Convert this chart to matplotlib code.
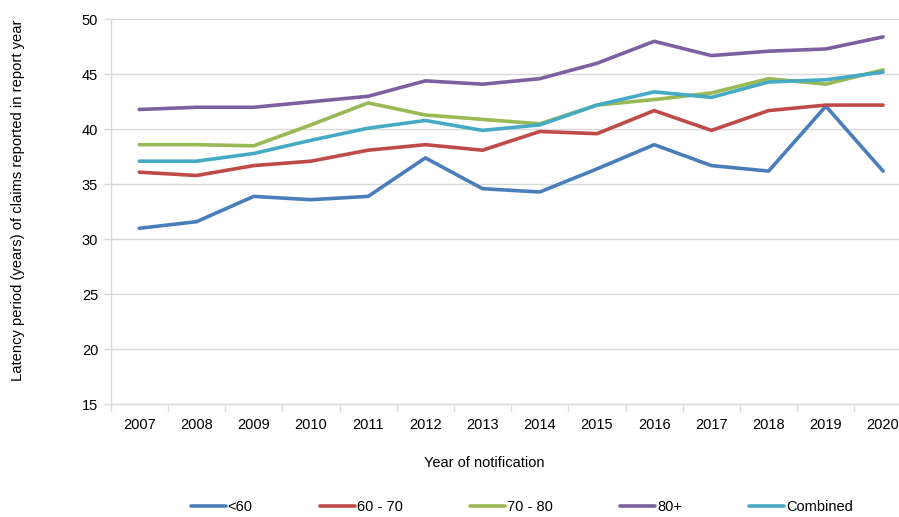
import matplotlib

matplotlib.use("Agg")
import matplotlib.pyplot as plt
import numpy as np

plt.rcParams["font.family"] = ["Liberation Sans", "DejaVu Sans"]

years = [str(y) for y in range(2007, 2021)]
under_60 = [31.0, 31.6, 33.9, 33.6, 33.9, 37.4, 34.6, 34.3, 36.4, 38.6, 36.7, 36.2, 42.1, 36.2]
age_60_70 = [36.1, 35.8, 36.7, 37.1, 38.1, 38.6, 38.1, 39.8, 39.6, 41.7, 39.9, 41.7, 42.2, 42.2]
age_70_80 = [38.6, 38.6, 38.5, 40.4, 42.4, 41.3, 40.9, 40.5, 42.2, 42.7, 43.3, 44.6, 44.1, 45.4]
age_80_plus = [41.8, 42.0, 42.0, 42.5, 43.0, 44.4, 44.1, 44.6, 46.0, 48.0, 46.7, 47.1, 47.3, 48.4]
combined = [37.1, 37.1, 37.8, 39.0, 40.1, 40.8, 39.9, 40.4, 42.2, 43.4, 42.9, 44.3, 44.5, 45.2]

series = [
    ("<60", under_60, "#4A7EBB"),
    ("60 - 70", age_60_70, "#BE4B48"),
    ("70 - 80", age_70_80, "#98B954"),
    ("80+", age_80_plus, "#7D60A0"),
    ("Combined", combined, "#46AAC5"),
]

fig = plt.figure(figsize=(8.99, 5.17), dpi=100)
ax = fig.add_axes([0.1231, 0.218, 0.891, 0.7447])

x = np.arange(len(years))
for label, values, color in series:
    ax.plot(x, values, color=color, linewidth=2.6, label=label, solid_capstyle="round")

grid_color = "#D9D9D9"
ax.set_xlim(-0.5, len(years) - 0.5)
ax.set_ylim(15, 50)
ax.set_yticks(np.arange(15, 51, 5))
ax.yaxis.grid(True, color=grid_color, linewidth=1)
ax.set_axisbelow(True)

# category ticks sit between the years, labels in the middle
ax.set_xticks(np.arange(-0.5, len(years), 1))
ax.set_xticklabels([])
ax.set_xticks(x, minor=True)
ax.set_xticklabels(years, minor=True)
ax.tick_params(axis="x", which="major", length=5, color=grid_color, width=1)
ax.tick_params(axis="x", which="minor", length=0, pad=10, labelsize=10.5)
ax.tick_params(axis="y", length=5, color=grid_color, width=1, labelsize=10.5, pad=4)

for side in ("top", "right"):
    ax.spines[side].set_visible(False)
for side in ("left", "bottom"):
    ax.spines[side].set_color(grid_color)
    ax.spines[side].set_linewidth(1)

fig.text(0.02, 1 - 200 / 517, "Latency period (years) of claims reported in report year",
         rotation=90, ha="center", va="center", fontsize=10.6)
fig.text(484 / 899, 1 - 463 / 517, "Year of notification", ha="center", va="center", fontsize=10.5)

fig.legend(loc="center", bbox_to_anchor=(522 / 899, 1 - 507 / 517), ncol=5, frameon=False,
           fontsize=10.5, handlelength=2.4, handletextpad=0.15, columnspacing=4.6)

fig.savefig("out.png", dpi=100)
